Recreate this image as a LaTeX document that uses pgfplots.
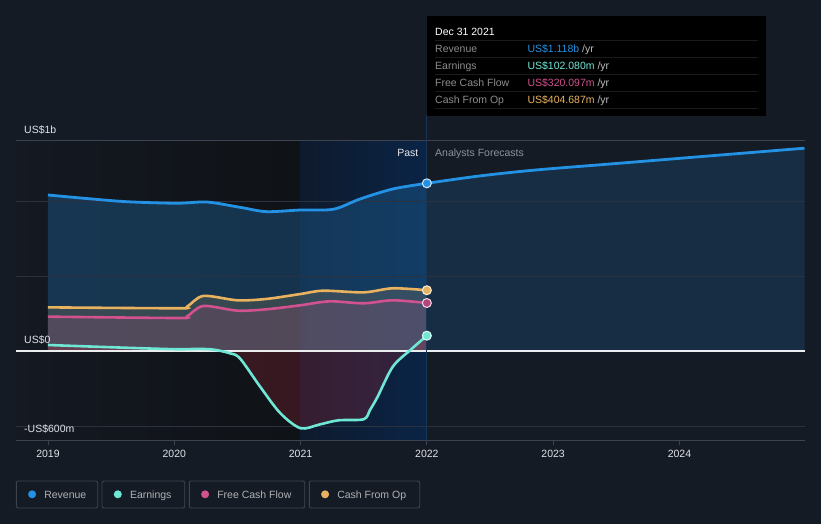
\documentclass[border=0pt]{standalone}
\usepackage{pgfplots}
\usepackage{pgfplotstable}
\pgfplotsset{compat=1.18}
\usepackage{fontspec}
\setmainfont{Liberation Sans}

\definecolor{bg}{HTML}{151B25}
\definecolor{revcol}{HTML}{2492E4}
\definecolor{earncol}{HTML}{6EE7D5}
\definecolor{fcfcol}{HTML}{D2518F}
\definecolor{cfocol}{HTML}{E9B25E}
\definecolor{gridc}{HTML}{2A3240}
\definecolor{framec}{HTML}{3D4451}
\definecolor{txt}{HTML}{E0E3E8}
\definecolor{dimtxt}{HTML}{8C929B}
\definecolor{pastL}{HTML}{141922}
\definecolor{pastR}{HTML}{0F1216}
\definecolor{bandL}{HTML}{0E1A2D}
\definecolor{bandR}{HTML}{0A2446}
\definecolor{vline}{HTML}{1A3457}
\definecolor{lossfill}{HTML}{A0283A}

% values in US$ billions
\pgfplotstableread{
year val
2019.00 1.040
2019.30 1.017
2019.63 0.995
2020.02 0.985
2020.26 0.993
2020.52 0.958
2020.73 0.929
2021.00 0.940
2021.26 0.945
2021.47 1.013
2021.73 1.080
2022.00 1.118
}\revpast

\pgfplotstableread{
year val
2022.00 1.118
2022.40 1.165
2022.84 1.205
2023.50 1.250
2024.20 1.298
2024.99 1.352
}\revfut

\pgfplotstableread{
year val
2019.00 0.291
2020.02 0.285
2020.10 0.295
2020.23 0.367
2020.50 0.338
2020.73 0.347
2021.00 0.380
2021.18 0.402
2021.50 0.391
2021.73 0.418
2022.00 0.405
}\cfo

\pgfplotstableread{
year val
2019.00 0.229
2020.02 0.220
2020.10 0.230
2020.23 0.300
2020.50 0.269
2020.73 0.278
2021.00 0.305
2021.23 0.331
2021.50 0.318
2021.73 0.338
2022.00 0.320
}\fcf

\pgfplotstableread{
year val
2019.00 0.040
2019.50 0.025
2020.00 0.012
2020.20 0.014
2020.32 0.008
2020.44 -0.015
2020.52 -0.049
2020.68 -0.238
2020.84 -0.415
2021.00 -0.515
2021.15 -0.490
2021.30 -0.462
2021.50 -0.455
2021.55 -0.393
2021.61 -0.305
2021.73 -0.105
2021.87 0.007
2022.00 0.102
}\earn

\begin{document}
\begin{tikzpicture}[x=1pt,y=1pt,font=\fontsize{10.5}{12}\selectfont]
\fill[bg] (0,0) rectangle (821,524);

\begin{axis}[
    at={(16pt,83pt)}, anchor=south west,
    scale only axis, width=789pt, height=300pt,
    xmin=2018.747, xmax=2024.994,
    ymin=-0.6, ymax=1.4,
    clip=false,
    axis line style={draw=none},
    xtick={2019,2020,2021,2022,2023,2024},
    xticklabels={2019,2020,2021,2022,2023,2024},
    xtick pos=bottom, tick align=outside,
    major tick length=4pt,
    xtick style={color=framec, line width=0.8pt},
    xticklabel style={text=txt, anchor=base, yshift=-13pt},
    ytick=\empty,
]
% background zones
\fill[left color=pastL, right color=pastR] (axis cs:2018.747,-0.6) rectangle (axis cs:2021,1.4);
\fill[left color=bandL, right color=bandR] (axis cs:2021,-0.6) rectangle (axis cs:2022,1.4);

% area fills
\addplot[draw=none, fill=revcol!55!bg, fill opacity=0.45, smooth] table[x=year,y=val]{\revpast} \closedcycle;
\addplot[draw=none, fill=revcol!35!bg, fill opacity=0.45, smooth] table[x=year,y=val]{\revfut} \closedcycle;
\addplot[draw=none, fill=cfocol, fill opacity=0.16, smooth] table[x=year,y=val]{\cfo} \closedcycle;
\addplot[draw=none, fill=fcfcol, fill opacity=0.17, smooth] table[x=year,y=val]{\fcf} \closedcycle;
\addplot[draw=none, fill=lossfill, fill opacity=0.28, smooth] table[x=year,y=val]{\earn} \closedcycle;

% grid and frame lines
\draw[gridc, line width=0.8pt] (axis cs:2018.747,1) -- (axis cs:2024.994,1);
\draw[gridc, line width=0.8pt] (axis cs:2018.747,0.5) -- (axis cs:2024.994,0.5);
\draw[gridc, line width=0.8pt] (axis cs:2018.747,-0.5) -- (axis cs:2024.994,-0.5);
\draw[framec, line width=1pt] (axis cs:2018.747,1.4) -- (axis cs:2024.994,1.4);
\draw[framec, line width=1pt] (axis cs:2018.747,-0.6) -- (axis cs:2024.994,-0.6);
\draw[white!92!bg, line width=1.2pt] (axis cs:2018.747,0) -- (axis cs:2024.994,0);
% hover line up to the tooltip
\draw[vline, line width=1pt] (axis cs:2022,-0.6) -- (axis cs:2022,1.57);

% series lines
\addplot[revcol, line width=2.8pt, smooth] table[x=year,y=val]{\revpast};
\addplot[revcol, line width=2.8pt, smooth] table[x=year,y=val]{\revfut};
\addplot[cfocol, line width=2.6pt, smooth] table[x=year,y=val]{\cfo};
\addplot[fcfcol, line width=2.6pt, smooth] table[x=year,y=val]{\fcf};
\addplot[earncol, line width=2.6pt, smooth] table[x=year,y=val]{\earn};

% end markers
\addplot[only marks, mark=*, mark size=4.5pt, mark options={fill=revcol, draw=white!80!revcol, line width=1pt}] coordinates {(2022,1.118)};
\addplot[only marks, mark=*, mark size=4.5pt, mark options={fill=cfocol, draw=white!80!cfocol, line width=1pt}] coordinates {(2022,0.405)};
\addplot[only marks, mark=*, mark size=4.5pt, mark options={fill=fcfcol!85!black, draw=white!80!fcfcol, line width=1pt}] coordinates {(2022,0.320)};
\addplot[only marks, mark=*, mark size=4.5pt, mark options={fill=earncol, draw=white!80!earncol, line width=1pt}] coordinates {(2022,0.102)};
\end{axis}

% y labels
\node[anchor=base west, inner sep=0, text=txt] at (24,390) {US\$1b};
\node[anchor=base west, inner sep=0, text=txt] at (24,180.5) {US\$0};
\node[anchor=base west, inner sep=0, text=txt] at (24,91) {-US\$600m};

\node[anchor=base east, inner sep=0, text=white!90!bg] at (418.5,367) {Past};
\node[anchor=base west, inner sep=0, text=dimtxt] at (435,367) {Analysts Forecasts};

% tooltip
\fill[black] (427,408) rectangle (766,508);
\node[anchor=base west, inner sep=0, text=white] at (435,488.3) {Dec 31 2021};
\foreach \yy in {484,466.7,449.7,432.3,415.3}{
  \draw[black!70!white!35!black, line width=0.8pt] (435,\yy) -- (758,\yy);
}
\node[anchor=base west, inner sep=0, text=black!45!white] at (435,471.7) {Revenue};
\node[anchor=base west, inner sep=0, text=black!45!white] at (435,454.7) {Earnings};
\node[anchor=base west, inner sep=0, text=black!45!white] at (435,437.7) {Free Cash Flow};
\node[anchor=base west, inner sep=0, text=black!45!white] at (435,420.7) {Cash From Op};
\node[anchor=base west, inner sep=0] at (527.3,471.7) {\textcolor{revcol}{US\$1.118b} \textcolor{black!25!white}{/yr}};
\node[anchor=base west, inner sep=0] at (527.3,454.7) {\textcolor{earncol}{US\$102.080m} \textcolor{black!25!white}{/yr}};
\node[anchor=base west, inner sep=0] at (527.3,437.7) {\textcolor{fcfcol}{US\$320.097m} \textcolor{black!25!white}{/yr}};
\node[anchor=base west, inner sep=0] at (527.3,420.7) {\textcolor{cfocol}{US\$404.687m} \textcolor{black!25!white}{/yr}};

% legend
\foreach \xa/\xb/\col/\lab in {16.3/97.7/revcol/Revenue, 102/184.7/earncol/Earnings, 189.3/304.7/fcfcol/Free Cash Flow, 309.3/419.7/cfocol/Cash From Op}{
  \draw[framec, line width=0.9pt, rounded corners=2pt] (\xa,16) rectangle (\xb,43);
  \fill[\col] (\xa+15.8,29.7) circle (4);
  \node[anchor=base west, inner sep=0, text=black!20!white!85!bg] at (\xa+27.8,25.5) {\lab};
}

\pgfresetboundingbox
\useasboundingbox (0,0) rectangle (821,524);
\end{tikzpicture}
\end{document}
